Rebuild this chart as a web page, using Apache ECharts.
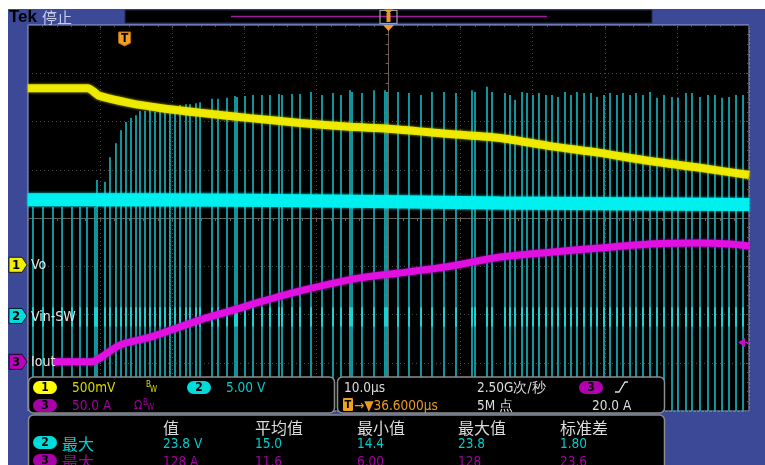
<!DOCTYPE html>
<html><head><meta charset="utf-8">
<script src="https://cdn.jsdelivr.net/npm/echarts@6/dist/echarts.min.js"></script>
<style>html,body{margin:0;padding:0;background:#fff;}#c{width:765px;height:465px;}</style>
</head><body><div id="c"></div>
<script>
// ---- data (time in µs relative to the expansion point, vertical in divisions) ----
const timeRange = [-50, 50];
const divRange = [-4, 4];
const triggerTime = -36.6;
const chOffsets = [-0.97, -2.03, -2.98];
const chLabels = ['Vo', 'Vin-SW', 'Iout'];
const ch3Scale = 50;      // A/div
const trigLevel = 20;     // A

const voT = [-50, -45.56, -41.68, -40.99, -40.08, -35.85, -31.69, -26.14, -19.21, -12.27, -5.34, 0, 8.53, 15.46, 22.40, 29.33, 36.27, 43.20, 50];
const voY = [2.69, 2.69, 2.69, 2.63, 2.53, 2.38, 2.28, 2.18, 2.07, 1.97, 1.89, 1.85, 1.74, 1.66, 1.49, 1.35, 1.18, 1.04, 0.89];

const swT = [-50, -19.21, 15.46, 50];
const swY = [0.38, 0.37, 0.31, 0.28];

const ioT = [-46.39, -41.12, -40.01, -37.24, -33.07, -26.14, -21.57, -17.82, -12.27, -3.95, 1.59, 8.53, 15.46, 22.40, 29.33, 36.27, 43.20, 47.36, 50];
const ioY = [-2.98, -2.98, -2.90, -2.63, -2.47, -2.11, -1.91, -1.74, -1.51, -1.24, -1.14, -1.00, -0.81, -0.71, -0.62, -0.54, -0.52, -0.54, -0.58];

const pulseT = [-49.31, -47.92, -46.53, -45.28, -43.90, -42.79, -41.82, -40.71,
  -40.43, -39.32, -38.63, -37.80, -37.10, -36.41, -35.72, -35.02, -34.47, -33.77, -33.08, -32.39, -31.69, -31.00, -30.31, -29.61, -28.92, -28.09, -27.53, -26.70, -26.14,
  -24.48, -23.65, -22.40, -21.29, -21.01, -19.90, -18.79, -17.55, -16.44, -15.19, -14.77, -13.38, -12.27, -10.75, -9.22, -7.70, -6.59, -5.34, -5.06, -3.68, -2.01, -0.49, -0.21,
  1.32, 2.84, 4.51, 6.03, 7.70, 9.36, 11.58, 12.00, 13.66, 14.36, 16.16, 16.85, 17.55, 18.52, 19.21, 20.04, 20.87, 21.84, 22.68, 23.51, 24.48, 25.31, 26.14, 27.12, 28.09,
  28.92, 29.89, 30.72, 31.69, 32.52, 33.50, 34.33, 35.30, 36.27, 37.24, 38.21, 39.32, 40.15, 41.26, 42.09, 43.20, 44.31, 45.28, 46.26, 47.23, 48.20, 49.17];
const pulseTop = [0.23, 0.23, 0.23, 0.23, 0.23, 0.23, 0.23, 0.23,
  0.79, 0.75, 1.26, 1.55, 1.82, 1.99, 2.07, 2.13, 2.22, 2.22, 2.24, 2.20, 2.28, 2.28, 2.30, 2.32, 2.34, 2.36, 2.36, 2.38, 2.40,
  2.47, 2.47, 2.49, 2.53, 2.51, 2.53, 2.55, 2.55, 2.55, 2.57, 2.55, 2.57, 2.57, 2.61, 2.55, 2.59, 2.55, 2.65, 2.61, 2.59, 2.65, 2.65, 2.61,
  2.61, 2.59, 2.55, 2.61, 2.61, 2.59, 2.65, 2.61, 2.72, 2.61, 2.59, 2.55, 2.45, 2.61, 2.59, 2.55, 2.59, 2.55, 2.55, 2.51, 2.61, 2.55, 2.61, 2.59, 2.59,
  2.51, 2.55, 2.59, 2.55, 2.59, 2.55, 2.59, 2.55, 2.61, 2.49, 2.55, 2.51, 2.49, 2.59, 2.59, 2.51, 2.55, 2.55, 2.49, 2.51, 2.55, 2.55];

const rangeLabels = [['500mV', '5.00 V'], ['50.0 A']];
const timeLabels = ['10.0μs', '→▼36.6000μs', '2.50G次/秒', '5M 点', '20.0 A'];
const measHeaders = ['值', '平均值', '最小值', '最大值', '标准差'];
const measRow2 = ['23.8 V', '15.0', '14.4', '23.8', '1.80'];
const measRow3 = ['128 A', '11.6', '6.00', '128', '23.6'];

// ---- styles ----
const C1 = '#f2ee00', C2 = '#00f0f0', C3 = '#e010e0';
const PULSE = '#14a4ab';
const FONT = '"DejaVu Sans Condensed","Liberation Sans Narrow","DejaVu Sans",sans-serif';
const CJK = '"Noto Sans CJK SC",sans-serif';
const RF = '13.5px ' + FONT;

function zip(a, b) { return a.map((v, i) => [v, b[i]]); }

const gridLine = { color: '#4a4a4a', type: [1, 3], width: 1 };
const centerLine = { color: '#6c6058', width: 1 };

const option = {
  animation: false,
  backgroundColor: '#ffffff',
  grid: { left: 28, top: 25, width: 721, height: 386, show: true, backgroundColor: '#000', borderColor: '#9cabd9', borderWidth: 1 },
  xAxis: [
    { type: 'value', min: timeRange[0], max: timeRange[1], interval: 10,
      axisLine: { show: true, onZero: true, lineStyle: centerLine },
      axisTick: { show: true, length: 3, lineStyle: centerLine },
      minorTick: { show: true, splitNumber: 5, length: 3, lineStyle: centerLine },
      axisLabel: { show: false }, splitLine: { show: true, lineStyle: gridLine } },
    { type: 'value', position: 'top', min: timeRange[0], max: timeRange[1], interval: 10,
      axisLine: { show: false, onZero: false },
      axisTick: { show: true, inside: true, length: 3, lineStyle: { color: '#5a5a5a' } },
      minorTick: { show: true, splitNumber: 5, length: 2, lineStyle: { color: '#5a5a5a' } },
      axisLabel: { show: false }, splitLine: { show: false } }
  ],
  yAxis: [
    { type: 'value', min: divRange[0], max: divRange[1], interval: 1,
      axisLine: { show: true, onZero: true, lineStyle: centerLine },
      axisTick: { show: true, length: 3, lineStyle: centerLine },
      minorTick: { show: true, splitNumber: 5, length: 3, lineStyle: centerLine },
      axisLabel: { show: false }, splitLine: { show: true, lineStyle: gridLine } },
    { type: 'value', position: 'right', min: divRange[0], max: divRange[1], interval: 1,
      axisLine: { show: false, onZero: false },
      axisTick: { show: true, inside: true, length: 3, lineStyle: { color: '#5a5a5a' } },
      minorTick: { show: true, splitNumber: 5, length: 2, lineStyle: { color: '#5a5a5a' } },
      axisLabel: { show: false }, splitLine: { show: false } }
  ],
  series: [
    { type: 'custom', name: 'Vin-SW pulses', xAxisIndex: 0, yAxisIndex: 0, clip: true, z: 2,
      data: pulseT.map((t, i) => [t, pulseTop[i], divRange[0]]),
      renderItem: function (params, api) {
        const t = api.value(0);
        const p1 = api.coord([t, api.value(1)]);
        const p2 = api.coord([t, api.value(2)]);
        const m1 = api.coord([t, -1.85]);
        const m2 = api.coord([t, -2.25]);
        return { type: 'group', children: [
          { type: 'line', shape: { x1: p1[0], y1: p1[1], x2: p2[0], y2: p2[1] }, style: { stroke: PULSE, lineWidth: 1.8 } },
          { type: 'line', shape: { x1: m1[0], y1: m1[1], x2: m2[0], y2: m2[1] }, style: { stroke: '#19d2d6', lineWidth: 2 } }
        ] };
      } },
    { type: 'line', name: 'Vin-SW', data: zip(swT, swY), showSymbol: false, smooth: 0.2, z: 3,
      lineStyle: { color: C2, width: 13, shadowBlur: 3, shadowColor: C2 } },
    { type: 'line', name: 'Vo', data: zip(voT, voY), showSymbol: false, smooth: 0.25, z: 4,
      lineStyle: { color: C1, width: 8, opacity: 0.93, shadowBlur: 3, shadowColor: '#c8c400' } },
    { type: 'line', name: 'Iout', data: zip(ioT, ioY), showSymbol: false, smooth: 0.25, z: 5,
      lineStyle: { color: C3, width: 7, shadowBlur: 3, shadowColor: '#b000b0' } }
  ]
};

const chart = echarts.init(document.getElementById('c'), null, { renderer: 'canvas', width: 765, height: 465 });
chart.setOption(option);
const toPx = (t, d) => chart.convertToPixel({ gridIndex: 0 }, [t, d]);

const G = [];
const Z = 100;
function txt(x, y, s, fill, font, align) {
  G.push({ type: 'text', z: Z + 2, x: x, y: y, style: { text: s, fill: fill, font: font, align: align || 'left', verticalAlign: 'middle' } });
}
function rect(x, y, w, h, fill, stroke, r, z, lw) {
  G.push({ type: 'rect', z: z === undefined ? Z : z, shape: { x: x, y: y, width: w, height: h, r: r || 0 },
    style: { fill: fill, stroke: stroke || null, lineWidth: lw || 1 } });
}
function pill(x, y, n, fill) {
  rect(x, y, 24, 13, fill, null, 6.5, Z + 1);
  txt(x + 12, y + 7, n, '#000', 'bold 12px ' + FONT, 'center');
}

// blue frame
G.push({ type: 'rect', z: -10, shape: { x: 8, y: 9, width: 757, height: 456 }, style: { fill: '#3b4996' } });
// top status strip
txt(9, 17, 'Tek', '#000', 'bold 17px "Liberation Sans",sans-serif');
txt(42, 17, '停止', '#c8cdea', '15px ' + CJK);
rect(125, 10, 527, 13, '#000', '#222a55', 0, Z);
G.push({ type: 'line', z: Z + 1, shape: { x1: 231, y1: 16.5, x2: 547, y2: 16.5 }, style: { stroke: '#a01aa0', lineWidth: 1.5 } });
rect(380, 10.5, 17, 13, null, '#a0a0a0', 0, Z + 1, 1.2);
rect(386.5, 13, 4, 9, '#e8961c', null, 0, Z + 2);
G.push({ type: 'polygon', z: Z + 2, shape: { points: [[384, 9.5], [393, 9.5], [388.5, 14]] }, style: { fill: '#f0a020' } });

// expansion point marker (centre of time axis)
const pc = toPx(0, divRange[1]);
G.push({ type: 'polygon', z: Z, shape: { points: [[pc[0] - 5.5, pc[1]], [pc[0] + 5.5, pc[1]], [pc[0], pc[1] + 6]] }, style: { fill: '#f0a020' } });
// trigger point marker
const pt = toPx(triggerTime, divRange[1]);
G.push({ type: 'polygon', z: Z, shape: { points: [[pt[0] - 6, pt[1] + 7], [pt[0] + 6, pt[1] + 7], [pt[0] + 6, pt[1] + 18], [pt[0], pt[1] + 21], [pt[0] - 6, pt[1] + 18]] },
  style: { fill: '#f0a020', stroke: '#b06a10', lineWidth: 1 } });
txt(pt[0], pt[1] + 14, 'T', '#000', 'bold 12px ' + FONT, 'center');

// channel ground markers and labels
const chFill = [C1, '#00dede', '#c000c0'];
chOffsets.forEach((d, i) => {
  const p = toPx(timeRange[0], d);
  const y = p[1];
  G.push({ type: 'polygon', z: Z, shape: { points: [[9, y - 7.5], [22, y - 7.5], [27, y], [22, y + 7.5], [9, y + 7.5]] },
    style: { fill: chFill[i], stroke: '#000', lineWidth: 0.8 } });
  txt(16, y + 0.5, String(i + 1), '#000', 'bold 13px ' + FONT, 'center');
  txt(31, y + 1, chLabels[i], '#e4e4e4', '14px ' + FONT);
});
// trigger level marker for ch3
const pl = toPx(timeRange[1], chOffsets[2] + trigLevel / ch3Scale);
G.push({ type: 'polygon', z: Z, shape: { points: [[pl[0] - 11, pl[1]], [pl[0] - 4, pl[1] - 4.5], [pl[0] - 4, pl[1] + 4.5]] }, style: { fill: '#c010c0' } });
G.push({ type: 'line', z: Z, shape: { x1: pl[0] - 5, y1: pl[1], x2: pl[0], y2: pl[1] }, style: { stroke: '#c010c0', lineWidth: 1 } });

// readout box 1 (vertical scales)
rect(28.5, 377, 306, 36, '#000', '#8c8c8c', 5, Z, 1.5);
pill(33, 381, '1', '#ffff00');
txt(72, 388, rangeLabels[0][0], '#d8d800', RF);
txt(146, 385, 'B', '#d8d800', '8px ' + FONT);
txt(150, 390, 'W', '#d8d800', '8px ' + FONT);
pill(187, 381, '2', '#00dcdc');
txt(226, 388, rangeLabels[0][1], '#00cccc', RF);
pill(33, 399, '3', '#a800a8');
txt(72, 406, rangeLabels[1][0], '#a400a4', RF);
txt(134, 406, 'Ω', '#a400a4', '12px ' + FONT);
txt(143, 403, 'B', '#a400a4', '8px ' + FONT);
txt(147, 408, 'W', '#a400a4', '8px ' + FONT);

// readout box 2 (timebase / trigger)
rect(337.5, 377, 327, 36, '#000', '#8c8c8c', 5, Z, 1.5);
txt(344, 388, timeLabels[0], '#dcdcdc', RF);
rect(343, 398, 10, 13, '#f0a020', null, 1, Z + 1);
txt(348, 405, 'T', '#000', 'bold 11px ' + FONT, 'center');
txt(354, 406, timeLabels[1], '#e89a20', RF);
txt(477, 388, timeLabels[2], '#dcdcdc', RF);
txt(477, 406, timeLabels[3], '#dcdcdc', RF);
pill(579, 381, '3', '#b000b0');
G.push({ type: 'polyline', z: Z + 2, shape: { points: [[615, 392], [619, 392], [625, 382], [628, 382]] }, style: { stroke: '#dcdcdc', lineWidth: 1.3, fill: null } });
txt(592, 406, timeLabels[4], '#dcdcdc', RF);

// measurement box
rect(28.5, 415, 636, 60, '#000', '#8c8c8c', 5, Z, 1.5);
const colX = [163, 255, 357, 458, 560];
measHeaders.forEach((h, i) => txt(colX[i], 428, h, '#dcdcdc', '16px ' + CJK));
pill(33, 436, '2', '#00dcdc');
txt(62, 444, '最大', '#00d0d0', '16px ' + CJK);
measRow2.forEach((v, i) => txt(colX[i], 444, v, '#00cccc', RF));
pill(33, 454, '3', '#a800a8');
txt(62, 462, '最大', '#a400a4', '16px ' + CJK);
measRow3.forEach((v, i) => txt(colX[i], 462, v, '#a400a4', RF));

chart.setOption({ graphic: { elements: G } });
</script></body></html>
